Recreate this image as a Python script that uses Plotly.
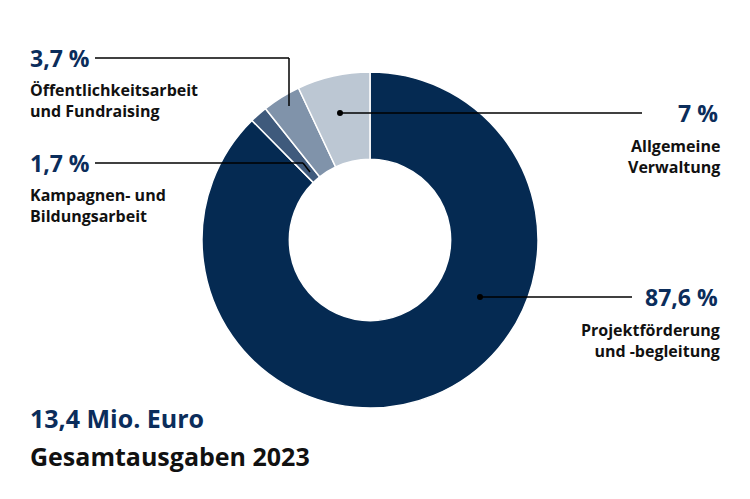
import plotly.graph_objects as go

labels = ["Projektförderung und -begleitung", "Kampagnen- und Bildungsarbeit",
          "Öffentlichkeitsarbeit und Fundraising", "Allgemeine Verwaltung"]
values = [87.6, 1.7, 3.7, 7.0]
colors = ["#052a52", "#3f5a7c", "#8093aa", "#bcc7d3"]
value_text = ["87,6 %", "1,7 %", "3,7 %", "7 %"]

W, H = 750, 499
OFF = 8  # page body margin
navy = "#0b2d5b"
font = "Open Sans"


def px(x, y):
    return (x - OFF) / W, 1 - (y - OFF) / H


d0 = px(202, 408)
d1 = px(538, 72)
fig = go.Figure(go.Pie(
    labels=labels, values=values, hole=0.48, sort=False, direction="clockwise",
    rotation=0, marker=dict(colors=colors, line=dict(color="white", width=1.5)),
    textinfo="none", hoverinfo="label+percent",
    domain=dict(x=[d0[0], d1[0]], y=[d0[1], d1[1]]),
))

# leader lines (pixel paths)
paths = [
    [(480, 297), (632, 297)],
    [(340, 113), (642, 113)],
    [(95, 58), (289, 58), (289, 106)],
    [(95, 163), (303, 163), (310, 172)],
]
for p in paths:
    for (x0, y0), (x1, y1) in zip(p[:-1], p[1:]):
        a, b = px(x0, y0)
        c, d = px(x1, y1)
        fig.add_shape(type="line", xref="paper", yref="paper", x0=a, y0=b, x1=c, y1=d,
                      line=dict(color="black", width=1.5))
for x, y in [p[0] for p in paths[:2]]:
    a, b = px(x, y)
    fig.add_shape(type="circle", xref="paper", yref="paper",
                  x0=a - 0.004, x1=a + 0.004, y0=b - 0.006, y1=b + 0.006,
                  fillcolor="black", line=dict(width=0))


def text(x, y, s, size, color, anchor="left", bold=True):
    a, b = px(x, y)
    fig.add_annotation(x=a, y=b, xref="paper", yref="paper", text=f"<b>{s}</b>" if bold else s,
                       showarrow=False, xanchor=anchor, yanchor="middle",
                       align=anchor, font=dict(family=font, size=size, color=color))


# values
text(28, 58, value_text[2], 23, navy)
text(28, 163, value_text[1], 23, navy)
text(720, 113, value_text[3], 23, navy, "right")
text(720, 297, value_text[0], 23, navy, "right")
# labels
text(28, 101, "Öffentlichkeitsarbeit<br>und Fundraising", 16, "#111")
text(28, 205, "Kampagnen- und<br>Bildungsarbeit", 16, "#111")
text(722, 156, "Allgemeine<br>Verwaltung", 16, "#111", "right")
text(722, 340, "Projektförderung<br>und -begleitung", 16, "#111", "right")
# totals
text(28, 418, "13,4 Mio. Euro", 25, navy)
text(28, 456, "Gesamtausgaben 2023", 25, "#111")

fig.update_layout(width=W, height=H, margin=dict(l=0, r=0, t=0, b=0),
                  showlegend=False, paper_bgcolor="white")
fig.write_html("out.html")
